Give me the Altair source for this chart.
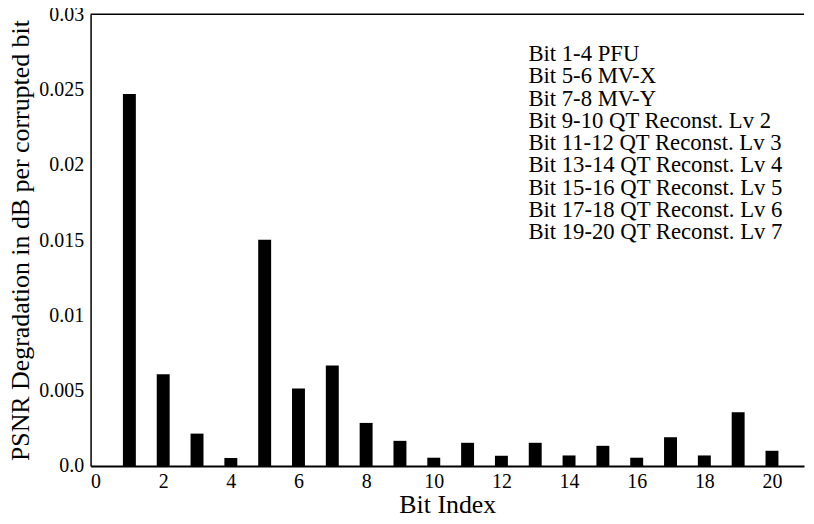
import altair as alt
import pandas as pd

bit_index = list(range(1, 21))
degradation = [0.0247, 0.0061, 0.00215, 0.00053, 0.01503, 0.00515, 0.00667, 0.00286,
               0.00167, 0.00055, 0.00154, 0.00068, 0.00154, 0.0007, 0.00134, 0.00055,
               0.00191, 0.0007, 0.00357, 0.00101]
legend_lines = [
    "Bit 1-4 PFU",
    "Bit 5-6 MV-X",
    "Bit 7-8 MV-Y",
    "Bit 9-10 QT Reconst. Lv 2",
    "Bit 11-12 QT Reconst. Lv 3",
    "Bit 13-14 QT Reconst. Lv 4",
    "Bit 15-16 QT Reconst. Lv 5",
    "Bit 17-18 QT Reconst. Lv 6",
    "Bit 19-20 QT Reconst. Lv 7",
]
x_ticks = list(range(0, 21, 2))
y_ticks = [0, 0.005, 0.01, 0.015, 0.02, 0.025, 0.03]

W, H = 717, 454
FONT = "'Liberation Serif', 'Times New Roman', Times, serif"

df = pd.DataFrame({"bit": bit_index, "deg": degradation})

xs = alt.Scale(domain=[0, 20.8], nice=False, zero=False)
ys = alt.Scale(domain=[0, 0.03], nice=False)

bars = alt.Chart(df).mark_bar(size=13, color="black").encode(
    x=alt.X("bit:Q", scale=xs,
            axis=alt.Axis(values=x_ticks, title="Bit Index", labelFontSize=20,
                          titleFontSize=26, titlePadding=0, labelPadding=6,
                          ticks=False, domainWidth=1.8)),
    y=alt.Y("deg:Q", scale=ys,
            axis=alt.Axis(values=y_ticks, title="PSNR Degradation in dB per corrupted bit",
                          labelExpr="datum.value == 0 ? '0.0' : format(datum.value, '~g')",
                          labelFontSize=20, titleFontSize=26, titlePadding=5,
                          labelPadding=7, ticks=False, domainWidth=1.5)),
)

top_border = alt.Chart(pd.DataFrame({"a": [0]})).mark_rule(color="black", strokeWidth=1.5).encode(
    x=alt.value(0), x2=alt.value(W), y=alt.value(0)
)

legend = alt.Chart(pd.DataFrame({"t": ["\n".join(legend_lines)]})).mark_text(
    align="left", baseline="top", lineBreak="\n", lineHeight=22.4,
    fontSize=22.8, font=FONT, color="black"
).encode(x=alt.value(440), y=alt.value(29), text="t:N")

chart = alt.layer(bars, top_border, legend).properties(
    width=W, height=H,
    autosize=alt.AutoSizeParams(type="none"),
    padding={"left": 83, "top": 5, "right": 2, "bottom": 55},
).configure_view(stroke=None).configure_axis(
    labelFont=FONT, titleFont=FONT, labelColor="black", titleColor="black",
    domainColor="black", grid=False, titleFontWeight="normal"
)

chart.save("out.html", embed_options={"renderer": "svg", "actions": False})
